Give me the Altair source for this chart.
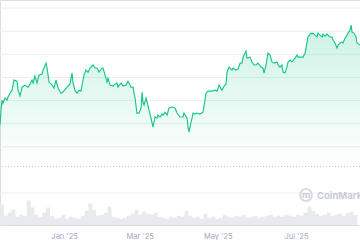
import altair as alt
import pandas as pd

START = "2024-11-12"

# price series: day offset from START, price
day = [0, 0.8, 1.6, 2.3, 3.9, 5.5, 6.2, 7.8, 9.4, 10.9, 13.3, 14.1, 15.6, 17.2, 19.5, 21.9, 23.4, 25.0, 25.8, 27.3,
       28.9, 30.4, 32.8, 33.6, 35.9, 36.7, 38.3, 40.6, 42.2, 43.7, 45.3, 47.6, 49.2, 52.3, 54.6, 56.2, 57.0, 58.5, 60.1, 61.7,
       63.2, 64.8, 65.6, 67.1, 68.7, 70.3, 72.6, 74.2, 75.7, 77.3, 79.6, 80.4, 82.0, 83.5, 84.3, 85.9, 88.2, 89.8, 91.3, 92.1,
       94.5, 96.0, 98.4, 99.9, 102.3, 103.8, 105.4, 106.9, 108.5, 110.1, 110.9, 111.6, 112.4, 114.0, 114.8, 116.3, 117.9, 119.4, 121.0, 122.6,
       123.3, 124.9, 126.5, 127.2, 128.8, 130.4, 131.9, 134.3, 136.6, 138.2, 140.5, 142.9, 143.6, 146.0, 146.8, 147.5, 149.1, 149.9, 150.7, 152.2,
       153.8, 156.1, 158.5, 160.0, 160.8, 162.4, 165.5, 167.8, 169.4, 171.0, 173.3, 174.9, 176.4, 177.2, 178.8, 181.1, 181.9, 184.2, 185.8, 187.4,
       188.9, 189.7, 192.0, 192.8, 195.2, 196.7, 198.3, 199.8, 201.4, 203.7, 205.3, 206.1, 207.6, 209.2, 210.8, 212.3, 213.9, 216.2, 217.0, 218.6,
       220.1, 220.9, 222.5, 224.0, 224.8, 226.4, 227.9, 230.3, 231.9, 232.6, 235.0, 236.5, 238.1, 239.7, 240.4, 242.8, 243.6, 244.3, 245.9, 247.5,
       248.2, 249.8, 251.4, 252.1, 253.7, 255.3, 256.0, 257.6, 259.2, 260.0, 261.5, 263.1, 263.9, 265.4, 267.0, 267.8, 269.3, 270.9, 271.7, 273.2,
       274.0, 274.8, 276.3, 277.9, 278.7, 281.0]
price = [12.94, 13.59, 14.02, 13.89, 14.11, 14.02, 14.15, 14.32, 14.45, 14.89, 14.84, 14.45, 14.20, 14.58, 14.67, 14.58, 14.71, 14.89, 14.76, 15.06,
         14.76, 15.10, 15.15, 15.32, 15.62, 15.41, 14.80, 14.67, 14.54, 14.89, 14.54, 14.32, 14.37, 14.58, 14.71, 15.19, 14.76, 14.45, 14.32, 14.45,
         14.41, 14.89, 15.10, 15.32, 15.23, 15.41, 15.54, 15.41, 15.41, 15.23, 15.41, 15.41, 15.10, 14.80, 14.97, 14.67, 14.63, 14.71, 14.76, 14.58,
         14.76, 14.63, 14.67, 14.84, 14.58, 14.58, 14.11, 13.46, 13.46, 13.68, 14.37, 13.94, 13.81, 14.11, 13.94, 13.59, 13.24, 12.85, 13.29, 13.24,
         13.37, 13.29, 13.42, 13.37, 13.50, 13.37, 13.68, 13.72, 13.68, 13.46, 13.29, 13.29, 13.46, 13.24, 12.85, 12.64, 13.07, 13.24, 13.46, 13.42,
         13.46, 13.42, 13.50, 14.02, 14.32, 14.41, 14.41, 14.45, 14.41, 14.67, 14.45, 14.63, 14.71, 15.23, 15.45, 15.32, 15.41, 15.32, 15.36, 15.62,
         15.62, 15.88, 16.14, 15.84, 15.88, 15.67, 15.54, 15.54, 15.62, 15.45, 15.41, 15.19, 15.54, 16.05, 15.97, 15.67, 15.62, 15.67, 15.54, 15.45,
         15.54, 15.23, 15.19, 15.45, 15.67, 15.75, 15.67, 15.84, 15.97, 15.88, 15.88, 15.88, 16.05, 16.53, 16.75, 16.92, 16.88, 16.92, 16.83, 16.75,
         16.92, 16.83, 16.75, 16.88, 16.79, 16.88, 16.83, 16.75, 16.75, 16.62, 16.49, 16.27, 16.40, 16.49, 16.53, 16.49, 16.70, 16.83, 16.92, 17.05,
         17.26, 16.96, 16.92, 16.75, 16.49, 16.40]

# volume per 3-day bucket
volume = [200, 90, 120, 150, 80, 100, 90, 240, 170, 100, 80, 120, 170, 90, 60, 70, 100, 60, 80, 70,
          60, 90, 140, 210, 150, 90, 100, 120, 180, 80, 70, 60, 70, 90, 110, 150, 100, 130, 110, 100,
          120, 80, 70, 60, 80, 70, 90, 80, 140, 90, 70, 80, 60, 110, 70, 80, 60, 70, 100, 80,
          70, 90, 80, 100, 70, 80, 90, 70, 80, 90, 100, 80, 90, 80, 100, 90, 80, 100, 90, 120,
          180, 140, 110, 90, 100, 120, 90, 100, 110, 90, 120, 130, 100, 90]

ref_price = 11.15
grid_vals = [10, 12, 13, 14, 15, 16, 17, 18]
tick_dates = [alt.DateTime(year=2025, month=m, date=1) for m in (1, 3, 5, 7)]

start = pd.Timestamp(START)
pdf = pd.DataFrame({"date": start + pd.to_timedelta(day, unit="D"), "price": price})
vdf = pd.DataFrame({
    "d0": [start + pd.Timedelta(days=3 * i) for i in range(len(volume))],
    "vol": volume,
})
gdf = pd.DataFrame({"g": grid_vals})

xscale = alt.Scale(domain=[alt.DateTime(year=2024, month=11, date=12),
                           alt.DateTime(year=2025, month=8, date=20)])
xaxis = alt.Axis(values=tick_dates, format="%b '%y", grid=False, ticks=False, domain=False,
                 labelColor="#a1a7bb", labelFont="Inter", labelFontSize=7.5, labelPadding=7, title=None)
yscale = alt.Scale(domain=[8.62, 18.35], nice=False, zero=False)

vol = alt.Chart(vdf).mark_area(color="#e8eaef", interpolate="step-after", clip=True).encode(
    x=alt.X("d0:T", scale=xscale, axis=xaxis),
    y=alt.Y("vol:Q", scale=alt.Scale(domain=[0, 2200]), axis=None),
)

grid = alt.Chart(gdf).mark_rule(color="#eceef2", strokeWidth=1).encode(
    y=alt.Y("g:Q", scale=yscale, axis=None))

area = alt.Chart(pdf).mark_area(
    color=alt.Gradient(gradient="linear",
                       stops=[alt.GradientStop(color="rgba(22,199,132,0.22)", offset=0),
                              alt.GradientStop(color="rgba(22,199,132,0.0)", offset=1)],
                       x1=1, x2=1, y1=0, y2=1)
).encode(
    x=alt.X("date:T", scale=xscale, axis=xaxis),
    y=alt.Y("price:Q", scale=yscale, axis=None),
    y2=alt.datum(ref_price),
)

rule = alt.Chart(pd.DataFrame({"p": [ref_price]})).mark_rule(
    color="#c3c7cf", strokeDash=[1, 2], strokeWidth=1
).encode(y=alt.Y("p:Q", scale=yscale, axis=None))

line = alt.Chart(pdf).mark_line(color="#16c784", strokeWidth=1.15).encode(
    x=alt.X("date:T", scale=xscale, axis=xaxis),
    y=alt.Y("price:Q", scale=yscale, axis=None),
)

price_layer = alt.layer(grid, area, rule, line)

wm = pd.DataFrame({"t": ["CoinMarketCap"]})
ring = alt.Chart(wm).mark_point(shape="circle", size=140, filled=False, stroke="#c8ccd6",
                                strokeWidth=2).encode(x=alt.value(306), y=alt.value(195))
ring_m = alt.Chart(wm).mark_text(text="m", fontSize=9, fontWeight="bold", color="#c8ccd6",
                                 font="Inter").encode(x=alt.value(306), y=alt.value(195))
wm_text = alt.Chart(wm).mark_text(align="left", baseline="middle", fontSize=9.5, fontWeight="bold",
                                  color="#c8ccd6", font="Inter").encode(
    x=alt.value(317), y=alt.value(196), text="t:N")

chart = alt.layer(vol, price_layer, ring, ring_m, wm_text).resolve_scale(y="independent").properties(
    width=360, height=225,
    autosize=alt.AutoSizeParams(type="none"),
    padding={"left": 0, "right": 0, "top": 0, "bottom": 15},
).configure_view(stroke=None).configure(background="white")

chart.save("out.html", embed_options={"renderer": "svg", "actions": False})
